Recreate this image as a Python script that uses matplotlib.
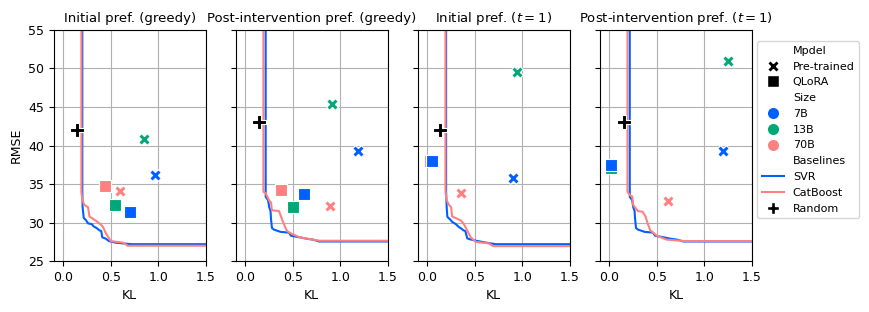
import numpy as np
import matplotlib.pyplot as plt
from matplotlib.lines import Line2D

titles = ["Initial pref. (greedy)", "Post-intervention pref. (greedy)",
          "Initial pref. ($t=1$)", "Post-intervention pref. ($t=1$)"]
sizes = ["7B", "13B", "70B"]
colors = {"7B": "#0060ff", "13B": "#00a878", "70B": "#ff8080"}

# pre-trained (KL, RMSE) per panel, order 7B, 13B, 70B
pre_kl = [[0.97, 0.855, 0.60], [1.19, 0.91, 0.895], [0.90, 0.94, 0.35], [1.195, 1.253, 0.615]]
pre_rmse = [[36.2, 40.9, 34.05], [39.3, 45.35, 32.2], [35.75, 49.5, 33.87], [39.25, 51.0, 32.75]]
# QLoRA (KL, RMSE) per panel, order 70B, 13B, 7B (drawing order)
qlora_kl = [[0.436, 0.54, 0.70], [0.38, 0.506, 0.62], [0.03, 0.05, 0.05], [0.02, 0.02, 0.02]]
qlora_rmse = [[34.8, 32.3, 31.4], [34.2, 32.05, 33.66], [37.95, 37.95, 37.95], [37.47, 37.05, 37.47]]
qlora_order = ["70B", "13B", "7B"]
# random baseline
rand_kl = [0.14, 0.143, 0.13, 0.149]
rand_rmse = [42.0, 43.1, 42.0, 43.1]

# SVR / CatBoost frontiers
svr_kl = [
    [0.2, 0.2, 0.203, 0.215, 0.24, 0.26, 0.30, 0.32, 0.35, 0.38, 0.40, 0.41, 0.45, 0.48, 0.55, 0.63, 0.72, 1.6],
    [0.214, 0.214, 0.24, 0.25, 0.265, 0.27, 0.28, 0.30, 0.37, 0.46, 0.48, 0.50, 0.57, 0.65, 0.71, 0.78, 1.6],
    [0.197, 0.197, 0.203, 0.21, 0.24, 0.26, 0.30, 0.33, 0.36, 0.38, 0.40, 0.42, 0.46, 0.51, 0.62, 0.72, 1.6],
    [0.214, 0.214, 0.24, 0.25, 0.265, 0.27, 0.28, 0.30, 0.37, 0.46, 0.48, 0.50, 0.57, 0.65, 0.71, 0.78, 1.6],
]
svr_rmse = [
    [60, 34.2, 32.0, 30.6, 30.3, 29.9, 29.8, 29.5, 29.3, 29.0, 28.9, 28.1, 27.9, 27.6, 27.4, 27.3, 27.2, 27.2],
    [60, 33.35, 32.9, 32.05, 31.5, 30.5, 29.3, 29.1, 28.8, 28.7, 28.3, 28.25, 28.1, 27.9, 27.8, 27.55, 27.55],
    [60, 34.0, 32.0, 30.75, 30.4, 30.1, 29.8, 29.45, 29.2, 29.0, 28.9, 27.95, 27.8, 27.65, 27.4, 27.2, 27.2],
    [60, 33.35, 32.9, 32.05, 31.5, 30.5, 29.3, 29.1, 28.8, 28.7, 28.3, 28.25, 28.1, 27.9, 27.8, 27.55, 27.55],
]
cat_kl = [
    [0.19, 0.19, 0.20, 0.22, 0.26, 0.275, 0.36, 0.39, 0.415, 0.45, 0.50, 0.63, 0.68, 1.6],
    [0.19, 0.19, 0.214, 0.25, 0.27, 0.28, 0.355, 0.39, 0.425, 0.44, 0.48, 0.57, 0.78, 1.6],
    [0.19, 0.19, 0.20, 0.226, 0.25, 0.26, 0.35, 0.38, 0.40, 0.456, 0.51, 0.65, 0.69, 1.6],
    [0.19, 0.19, 0.22, 0.24, 0.25, 0.30, 0.35, 0.38, 0.40, 0.43, 0.50, 0.60, 0.80, 1.6],
]
cat_rmse = [
    [60, 34.0, 33.0, 32.3, 32.0, 30.8, 30.1, 29.8, 29.5, 28.6, 27.6, 27.4, 27.0, 27.0],
    [60, 34.0, 33.8, 32.9, 32.6, 31.6, 31.5, 30.3, 29.25, 28.9, 28.6, 28.1, 27.65, 27.65],
    [60, 34.2, 33.0, 32.3, 32.0, 30.8, 30.3, 29.9, 29.45, 28.1, 27.5, 27.3, 26.95, 26.95],
    [60, 34.0, 33.5, 33.4, 32.3, 31.5, 31.4, 30.8, 30.0, 29.0, 28.3, 27.8, 27.6, 27.6],
]

plt.rcParams['font.size'] = 9
fig, axes = plt.subplots(1, 4, figsize=(8.69, 3.12), dpi=100, sharey=True)
fig.subplots_adjust(left=0.062, right=0.865, top=0.904, bottom=0.163, wspace=0.2)

for i, ax in enumerate(axes):
    ax.plot(svr_kl[i], svr_rmse[i], color="#0060ff", lw=1.5, zorder=2)
    ax.plot(cat_kl[i], cat_rmse[i], color="#ff8080", lw=1.5, zorder=2.1)
    for j, s in enumerate(sizes):
        ax.scatter(pre_kl[i][j], pre_rmse[i][j], marker="X", s=70, color=colors[s],
                   edgecolor="white", linewidth=0.8, zorder=3)
    for j, s in enumerate(qlora_order):
        ax.scatter(qlora_kl[i][j], qlora_rmse[i][j], marker="s", s=75, color=colors[s],
                   edgecolor="white", linewidth=0.8, zorder=3)
    ax.scatter(rand_kl[i], rand_rmse[i], marker="P", s=90, color="black",
               edgecolor="white", linewidth=0.8, zorder=4)
    ax.set_xlim(-0.1, 1.5)
    ax.set_ylim(25, 55)
    ax.set_xticks([0.0, 0.5, 1.0, 1.5])
    ax.set_yticks(range(25, 56, 5))
    ax.grid(True, color="#b0b0b0", lw=0.8)
    ax.set_axisbelow(True)
    ax.set_xlabel("KL")
    ax.set_title(titles[i], fontsize=9.5)
axes[0].set_ylabel("RMSE")

blank = Line2D([], [], linestyle="none")
handles = [
    blank,
    Line2D([], [], marker="X", color="black", linestyle="none", markersize=8.5, markeredgecolor="white"),
    Line2D([], [], marker="s", color="black", linestyle="none", markersize=8, markeredgecolor="white"),
    blank,
    Line2D([], [], marker="o", color=colors["7B"], linestyle="none", markersize=9, markeredgecolor="white"),
    Line2D([], [], marker="o", color=colors["13B"], linestyle="none", markersize=9, markeredgecolor="white"),
    Line2D([], [], marker="o", color=colors["70B"], linestyle="none", markersize=9, markeredgecolor="white"),
    blank,
    Line2D([], [], color="#0060ff", lw=1.5),
    Line2D([], [], color="#ff8080", lw=1.5),
    Line2D([], [], marker="P", color="black", linestyle="none", markersize=9, markeredgecolor="white"),
]
labels = ["Mpdel", "Pre-trained", "QLoRA", "Size", "7B", "13B", "70B",
          "Baselines", "SVR", "CatBoost", "Random"]
axes[3].legend(handles, labels, loc="upper left", bbox_to_anchor=(1.0, 0.975),
               fontsize=8, handlelength=2.0, labelspacing=0.52)

plt.savefig("out.png", dpi=100)
